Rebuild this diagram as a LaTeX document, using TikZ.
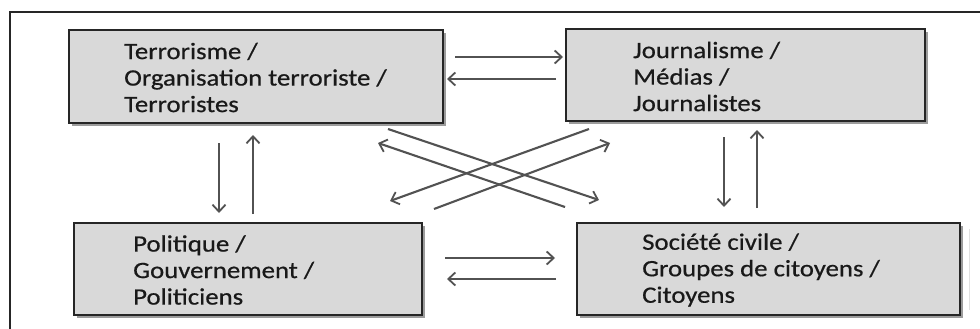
\documentclass[tikz,border=0pt]{standalone}
\usepackage{fontspec}
\setmainfont[FakeStretch=1.14,FakeBold=0.6]{Carlito}
\usetikzlibrary{arrows.meta,shadows}
\begin{document}
\begin{tikzpicture}[x=1pt,y=-1pt,
  box/.style={draw=black!85,line width=1.6pt,fill=black!15,inner sep=0pt,
    drop shadow={shadow xshift=3pt,shadow yshift=-3pt,fill=black!55,opacity=0.7}},
  lbl/.style={anchor=west,align=left,inner sep=0pt,text=black!90,
    font=\fontsize{23.5}{26.5}\selectfont},
  arr/.style={draw=black!68,line width=2.1pt,-{Straight Barb[length=7pt,width=13pt,line width=1.8pt]}}]
\useasboundingbox (0,0) rectangle (980,329);
\fill[white] (0,0) rectangle (980,329);
% frame
\draw[line width=1.6pt,black!85] (10,329) -- (10,12) -- (980,12);
\draw[line width=1pt,black!12] (969,229) -- (969,310);
% boxes
\node[box,minimum width=374pt,minimum height=93pt] (b1) at (256,76.5) {};
\node[box,minimum width=359pt,minimum height=92pt] (b2) at (745.5,75) {};
\node[box,minimum width=348pt,minimum height=92pt] (b3) at (248,269) {};
\node[box,minimum width=383pt,minimum height=92pt] (b4) at (768.5,269) {};
% texts
\node[lbl] (t1) at (124,77.5) {Terrorisme /\\Organisation terroriste /\\Terroristes};
\node[lbl] (t2) at (633,76.5) {Journalisme /\\Médias /\\Journalistes};
\node[lbl] (t3) at (133,270) {Politique /\\Gouvernement /\\Politiciens};
\node[lbl] (t4) at (642,270) {Société civile /\\Groupes de citoyens /\\Citoyens};
% connector end points
\coordinate (h1s) at (455,57);  \coordinate (h1e) at (563,57);
\coordinate (h2s) at (556,79);  \coordinate (h2e) at (447,79);
\coordinate (h3s) at (445,258); \coordinate (h3e) at (555,258);
\coordinate (h4s) at (556,279); \coordinate (h4e) at (447,279);
\coordinate (v1s) at (219,143); \coordinate (v1e) at (219,213);
\coordinate (v2s) at (253,214); \coordinate (v2e) at (253,135);
\coordinate (v3s) at (724,137); \coordinate (v3e) at (724,207);
\coordinate (v4s) at (757,208); \coordinate (v4e) at (757,130);
\coordinate (xas) at (388,129); \coordinate (xae) at (599,200);
\coordinate (xbs) at (565,207); \coordinate (xbe) at (378,143);
\coordinate (xcs) at (589,129); \coordinate (xce) at (390,201);
\coordinate (xds) at (434,209); \coordinate (xde) at (610,143);
% connectors
\draw[arr] (h1s) -- (h1e);
\draw[arr] (h2s) -- (h2e);
\draw[arr] (h3s) -- (h3e);
\draw[arr] (h4s) -- (h4e);
\draw[arr] (v1s) -- (v1e);
\draw[arr] (v2s) -- (v2e);
\draw[arr] (v3s) -- (v3e);
\draw[arr] (v4s) -- (v4e);
\draw[arr] (xas) -- (xae);
\draw[arr] (xbs) -- (xbe);
\draw[arr] (xcs) -- (xce);
\draw[arr] (xds) -- (xde);
\end{tikzpicture}
\end{document}
